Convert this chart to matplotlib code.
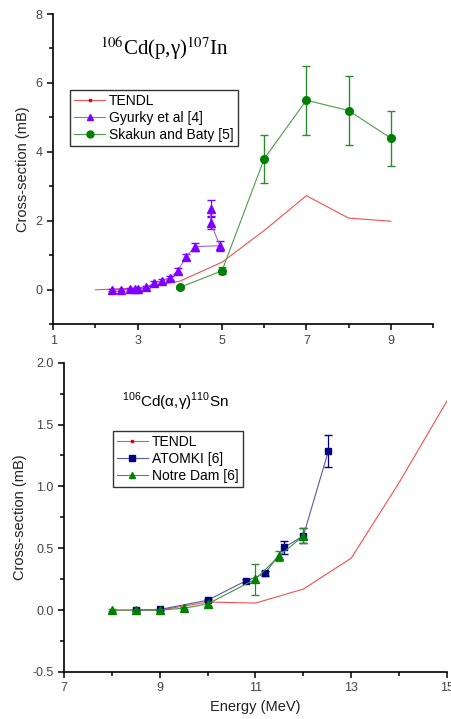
import matplotlib.pyplot as plt
from matplotlib.ticker import MultipleLocator
from matplotlib.lines import Line2D

# ---- top panel: 106Cd(p,g)107In ----
tendl_p_x = [2, 3, 4, 5, 6, 7, 8, 9]
tendl_p_y = [0.0, 0.05, 0.25, 0.8, 1.72, 2.73, 2.08, 1.99]

gyurky_x = [2.39, 2.60, 2.81, 2.95, 3.0, 3.21, 3.40, 3.58, 3.76, 3.95, 4.15, 4.35, 4.95, 4.73, 4.73]
gyurky_y = [0.0, 0.0, 0.01, 0.02, 0.01, 0.08, 0.2, 0.26, 0.35, 0.55, 0.95, 1.25, 1.28, 1.95, 2.35]
gyurky_err = [0.03, 0.03, 0.03, 0.03, 0.03, 0.04, 0.05, 0.05, 0.06, 0.08, 0.1, 0.12, 0.15, 0.2, 0.25]

skakun_x = [4, 5, 6, 7, 8, 9]
skakun_y = [0.07, 0.55, 3.8, 5.5, 5.2, 4.4]
skakun_err = [0.05, 0.1, 0.7, 1.0, 1.0, 0.8]

# ---- bottom panel: 106Cd(a,g)110Sn ----
tendl_a_x = [8, 8.5, 9, 10, 11, 12, 13, 14, 15]
tendl_a_y = [0.0, 0.0, 0.0, 0.065, 0.057, 0.17, 0.42, 1.03, 1.69]

atomki_x = [8.5, 9, 10, 10.8, 11.2, 11.6, 12, 12.52]
atomki_y = [0.0, 0.005, 0.08, 0.237, 0.296, 0.507, 0.60, 1.283]
atomki_err = [0.005, 0.005, 0.01, 0.015, 0.02, 0.05, 0.06, 0.13]

notre_x = [8, 8.5, 9, 9.5, 10, 11, 11.5, 12]
notre_y = [0.0, 0.0, 0.0, 0.015, 0.05, 0.25, 0.44, 0.60]
notre_err = [0.01, 0.01, 0.01, 0.01, 0.02, 0.125, 0.04, 0.06]

plt.rcParams['font.family'] = ['Liberation Sans', 'DejaVu Sans']
plt.rcParams['mathtext.fontset'] = 'custom'
plt.rcParams['mathtext.rm'] = 'Liberation Sans'

fig = plt.figure(figsize=(4.51, 7.19), dpi=100)
ax1 = fig.add_axes([0.118, 0.549, 0.842, 0.4315])
ax2 = fig.add_axes([0.142, 0.0654, 0.849, 0.4302])

for ax in (ax1, ax2):
    ax.spines['top'].set_visible(False)
    ax.spines['right'].set_visible(False)
    for s in ('left', 'bottom'):
        ax.spines[s].set_linewidth(1.2)
    ax.tick_params(which='major', direction='out', length=4, width=1.1,
                   labelsize=9, labelcolor='#444444')
    ax.tick_params(which='minor', direction='out', length=3, width=1.1)
    ax.xaxis.set_major_locator(MultipleLocator(2, offset=1))
    ax.xaxis.set_minor_locator(MultipleLocator(1))

legend_kw = dict(loc='upper left', fontsize=10, frameon=True, fancybox=False,
                 edgecolor='#333333', framealpha=1, handlelength=2.2,
                 handletextpad=0.3, borderpad=0.3, labelspacing=0.2,
                 numpoints=1, borderaxespad=0)

# top panel
ax1.plot(tendl_p_x, tendl_p_y, '-', color='#f05050', lw=0.8)
eb_g = ax1.errorbar(gyurky_x, gyurky_y, yerr=gyurky_err, fmt='-^', color='#a060e0',
                    mfc='#7f00ff', mec='#7f00ff', ecolor='#7f00ff', ms=5.5, lw=0.8,
                    elinewidth=0.9, capsize=3)
eb_s = ax1.errorbar(skakun_x, skakun_y, yerr=skakun_err, fmt='-o', color='#4e9a4e',
                    mfc='#008000', mec='#008000', ecolor='#2f8a2f', ms=5.5, lw=0.8,
                    elinewidth=1.0, capsize=3)
ax1.set_xlim(1, 10)
ax1.set_ylim(-1, 8)
ax1.yaxis.set_major_locator(MultipleLocator(2))
ax1.yaxis.set_minor_locator(MultipleLocator(1))
ax1.set_ylabel('Cross-section (mB)', fontsize=10.5, color='#222222')
ax1.text(0.124, 0.89, r'$^{106}$Cd(p,γ)$^{107}$In', transform=ax1.transAxes,
         fontsize=15, family='Liberation Serif', math_fontfamily='stix',
         ha='left', va='center')
h_tendl = Line2D([], [], color='#f05050', lw=0.8, marker='s', ms=1.5, mfc='#e00000', mec='#e00000')
h_g = Line2D([], [], color='#a060e0', lw=0.8, marker='^', ms=5, mfc='#7f00ff', mec='#7f00ff')
h_s = Line2D([], [], color='#4e9a4e', lw=0.8, marker='o', ms=5, mfc='#008000', mec='#008000')
ax1.legend([h_tendl, h_g, h_s], ['TENDL', 'Gyurky et al [4]', 'Skakun and Baty [5]'],
           bbox_to_anchor=(0.045, 0.755), **legend_kw)

# bottom panel
ax2.plot(tendl_a_x, tendl_a_y, '-', color='#f05050', lw=0.8)
eb_a = ax2.errorbar(atomki_x, atomki_y, yerr=atomki_err, fmt='-s', color='#5a5aa0',
                    mfc='#000080', mec='#000080', ecolor='#000080', ms=4.5, lw=0.8,
                    elinewidth=0.9, capsize=3)
eb_n = ax2.errorbar(notre_x, notre_y, yerr=notre_err, fmt='-^', color='#3c963c',
                    mfc='#008000', mec='#008000', ecolor='#2f8a2f', ms=5.5, lw=0.8,
                    elinewidth=0.9, capsize=3)
ax2.set_xlim(7, 15)
ax2.set_ylim(-0.5, 2.0)
ax2.yaxis.set_major_locator(MultipleLocator(0.5))
ax2.yaxis.set_minor_locator(MultipleLocator(0.25))
ax2.yaxis.set_major_formatter(plt.FormatStrFormatter('%.1f'))
ax2.set_ylabel('Cross-section (mB)', fontsize=10.5, color='#222222')
ax2.set_xlabel('Energy (MeV)', fontsize=10.5, color='#222222')
ax2.text(0.151, 0.874, r'$^{\mathrm{106}}$Cd(α,γ)$^{\mathrm{110}}$Sn', transform=ax2.transAxes,
         fontsize=11, math_fontfamily='custom', ha='left', va='center')
h_a = Line2D([], [], color='#5a5aa0', lw=0.8, marker='s', ms=4.5, mfc='#000080', mec='#000080')
h_n = Line2D([], [], color='#3c963c', lw=0.8, marker='^', ms=5, mfc='#008000', mec='#008000')
ax2.legend([h_tendl, h_a, h_n], ['TENDL', 'ATOMKI [6]', 'Notre Dam [6]'],
           bbox_to_anchor=(0.128, 0.779), **legend_kw)

fig.savefig('out.png', dpi=100)
